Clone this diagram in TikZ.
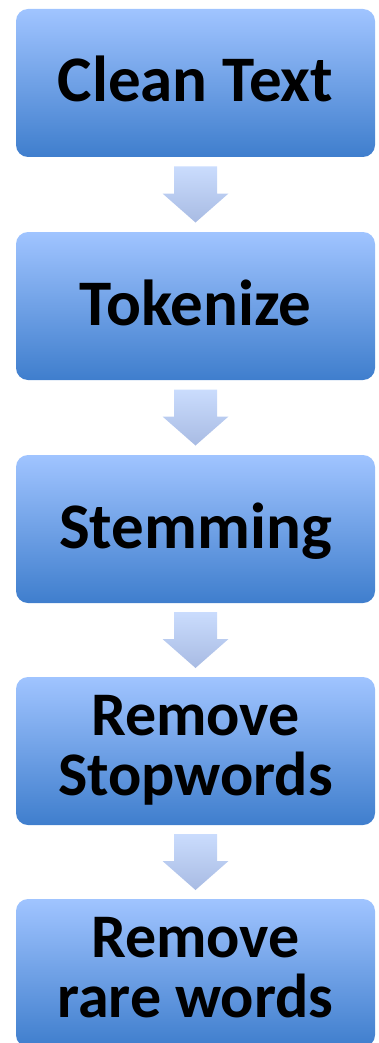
\documentclass[tikz,border=0pt]{standalone}
\usepackage{fontspec}
\setmainfont{Carlito}
\usetikzlibrary{calc}
\definecolor{boxtop}{HTML}{A0C4FF}
\definecolor{boxmid}{HTML}{86ACEF}
\definecolor{boxbot}{HTML}{3F7ECD}
\definecolor{arrtop}{HTML}{CADCFD}
\definecolor{arrbot}{HTML}{A8BBE3}
\begin{document}
\begin{tikzpicture}[x=1pt,y=-1pt,
  stepbox/.style={rounded corners=12pt, minimum width=359pt, minimum height=148pt, inner sep=0pt,
    top color=boxtop, middle color=boxmid, bottom color=boxbot},
  oneline/.style={stepbox, font=\fontsize{65}{70}\selectfont\bfseries, text height=51pt, text depth=13pt},
  twoline/.style={stepbox, align=center, font=\fontsize{62}{60}\selectfont\bfseries, text depth=12pt},
  flowarrow/.style={top color=arrtop, bottom color=arrbot}]
\clip (0,0) rectangle (378,1043);
\node[oneline] (clean) at (195.5,83) {Clean Text};
\node[oneline] (token) at (195.5,306) {Tokenize};
\node[oneline] (stem) at (195.5,529) {Stemming};
\node[twoline] (stop) at (195.5,751) {Remove\\Stopwords};
\node[twoline] (rare) at (195.5,973) {Remove\\rare words};
\foreach \a/\b in {clean/token, token/stem, stem/stop, stop/rare} {
  \coordinate (\a-\b) at ($(\a.south)!0.5!(\b.north)$);
  \shade[flowarrow] ($(\a-\b)+(-21.5,-28)$) -- ++(43,0) -- ++(0,27) -- ++(11.5,0)
    -- ($(\a-\b)+(0,28)$) -- ($(\a-\b)+(-33,-1)$) -- ++(11.5,0) -- cycle;
}
\end{tikzpicture}
\end{document}
